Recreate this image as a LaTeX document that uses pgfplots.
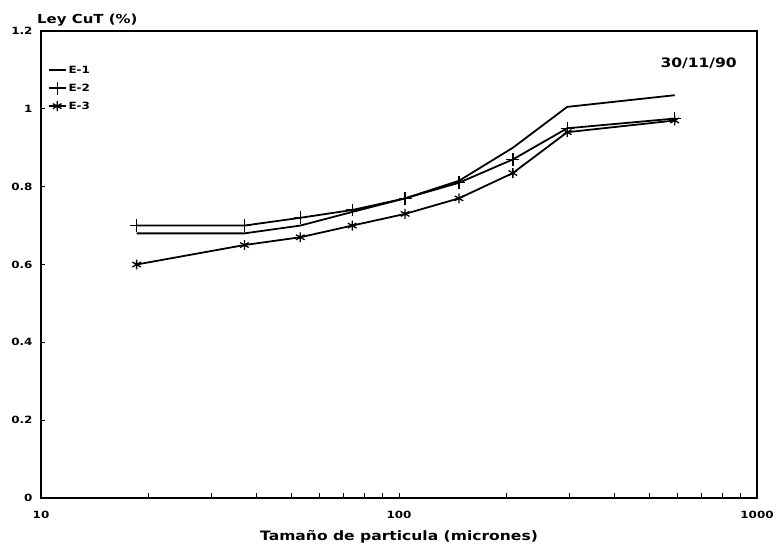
\documentclass[border=0pt]{standalone}
\usepackage{pgfplots}
\pgfplotsset{compat=1.18}
\usepackage{fontspec}
\setmainfont{DejaVu Sans}[FakeStretch=1.2]

\pgfplotstableread{
x     e1     e2     e3
18.5  0.680  0.700  0.600
37    0.680  0.700  0.650
53    0.700  0.720  0.670
74    0.735  0.740  0.700
104   0.770  0.770  0.730
147   0.815  0.810  0.770
208   0.900  0.870  0.835
295   1.005  0.950  0.940
589   1.035  0.975  0.970
}\datatable

\begin{document}
\begin{tikzpicture}
\begin{axis}[
  scale only axis,
  clip mode=individual,
  width=716bp, height=467bp,
  xmode=log, xmin=10, xmax=1000, ymin=0, ymax=1.2,
  axis line style={line width=1.5pt},
  tick align=inside, xtick pos=bottom, ytick pos=left,
  xtick={10,100,1000}, xticklabels={10,100,1000},
  ytick={0,0.2,0.4,0.6,0.8,1,1.2},
  yticklabels={0,0.2,0.4,0.6,0.8,1,1.2},
  /pgf/number format/assume math mode=true,
  major tick length=4bp, minor tick length=5bp,
  tick style={line width=0.8pt, black},
  ticklabel style={font=\bfseries\fontsize{10}{12}\selectfont},
  xticklabel style={yshift=-10bp},
  yticklabel style={xshift=-5bp},
  legend style={at={(rel axis cs:0.005,0.934)}, anchor=north west, draw=none, fill=none,
    font=\bfseries\fontsize{10}{12}\selectfont, row sep=5bp},
  legend cell align=left,
]
\addplot[black, line width=1.8pt] table[x=x, y=e1] {\datatable};
\addlegendentry{E-1}
\addplot[black, line width=1.8pt, mark=+, mark size=6.5pt, mark options={line width=1.3pt}] table[x=x, y=e2] {\datatable};
\addlegendentry{E-2}
\addplot[black, line width=1.8pt, mark=asterisk, mark size=5pt, mark options={line width=1.3pt}] table[x=x, y=e3] {\datatable};
\addlegendentry{E-3}
\node[anchor=north east, inner sep=0pt, font=\bfseries\fontsize{13}{15}\selectfont] at (rel axis cs:0.972,0.942) {30/11/90};
\node[anchor=south west, inner sep=0pt, font=\bfseries\fontsize{12.5}{15}\selectfont] at (rel axis cs:0,1) [xshift=-4bp, yshift=5bp] {Ley CuT (\%)};
\node[anchor=center, inner sep=0pt, font=\bfseries\fontsize{13}{15}\selectfont] at (rel axis cs:0.5,0) [yshift=-39bp] {Tamaño de particula (micrones)};
\end{axis}
\pgfresetboundingbox
\path (current axis.south west) ++(-41bp,-49bp) rectangle ++(781bp,547bp);
\end{tikzpicture}
\end{document}
